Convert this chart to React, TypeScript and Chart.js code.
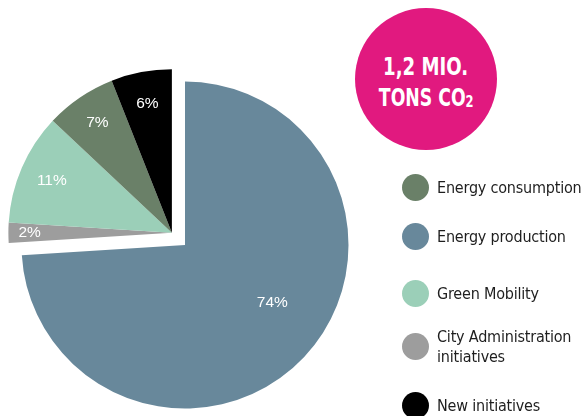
import React, { useEffect, useRef } from "react";
import { Chart, registerables } from "chart.js";

Chart.register(...registerables);

const categories = ["Energy production", "City Administration initiatives", "Green Mobility", "Energy consumption", "New initiatives"];
const shares = [74, 2, 11, 7, 6];
const colors = ["#68889b", "#9d9d9d", "#9bcfb8", "#6a8068", "#000000"];
const explodedIdx = [1, 2, 3, 4];
const labelRadius = [0.64, 0.87, 0.8, 0.81, 0.8];

const legendOrder = [3, 0, 2, 1, 4];
const legendLabels = ["Energy consumption", "Energy production", "Green Mobility", "City Administration\ninitiatives", "New initiatives"];

const W = 582;
const H = 416;
const FONT = '"Liberation Sans Narrow", "DejaVu Sans Condensed", "Liberation Sans", sans-serif';

export default function App() {
  const ref = useRef<HTMLCanvasElement>(null);
  useEffect(() => {
    document.body.style.margin = "0";
    const groupShift = {
      id: "groupShift",
      afterDatasetUpdate(chart: any, args: any) {
        const meta = args.meta;
        let start = 0;
        for (let i = 0; i < explodedIdx[0]; i++) start += shares[i];
        let sum = 0;
        explodedIdx.forEach((i) => (sum += shares[i]));
        const total = shares.reduce((a, b) => a + b, 0);
        const mid = -Math.PI / 2 + ((start + sum / 2) / total) * Math.PI * 2;
        const d = 18;
        explodedIdx.forEach((i) => {
          const el = meta.data[i];
          el.x += Math.cos(mid) * d;
          el.y += Math.sin(mid) * d;
        });
      },
    };
    const pctLabels = {
      id: "pctLabels",
      afterDatasetsDraw(chart: any) {
        const ctx = chart.ctx;
        const meta = chart.getDatasetMeta(0);
        ctx.save();
        ctx.fillStyle = "#ffffff";
        ctx.font = '15.5px "Liberation Sans", sans-serif';
        ctx.textAlign = "center";
        ctx.textBaseline = "middle";
        meta.data.forEach((el: any, i: number) => {
          let ang = (el.startAngle + el.endAngle) / 2;
          if (i === 0) ang -= 0.17;
          const r = el.outerRadius * labelRadius[i];
          ctx.fillText(shares[i] + "%", el.x + Math.cos(ang) * r, el.y + Math.sin(ang) * r);
        });
        ctx.restore();
      },
    };
    const chart = new Chart(ref.current!, {
      type: "pie",
      data: {
        labels: categories,
        datasets: [
          {
            data: shares,
            backgroundColor: colors,
            borderWidth: 0,
          },
        ],
      },
      options: {
        responsive: false,
        animation: false,
        layout: { padding: { left: 21.5, right: 233.5, top: 81.5, bottom: 7.5 } },
        plugins: { legend: { display: false }, tooltip: { enabled: false } },
      },
      plugins: [groupShift, pctLabels],
    });
    return () => chart.destroy();
  }, []);

  return (
    <div style={{ position: "relative", width: W, height: H, background: "#fff", overflow: "hidden" }}>
      <canvas ref={ref} width={W} height={H} style={{ position: "absolute", left: 0, top: 0 }} />
      <div
        style={{
          position: "absolute",
          left: 355,
          top: 8,
          width: 142,
          height: 142,
          boxSizing: "border-box",
          paddingTop: 10,
          borderRadius: "50%",
          background: "#e1197f",
          color: "#fff",
          fontFamily: FONT,
          fontWeight: "bold",
          fontSize: 24,
          lineHeight: "31px",
          display: "flex",
          flexDirection: "column",
          alignItems: "center",
          justifyContent: "center",
          textAlign: "center",
        }}
      >
        <div style={{ transform: "scaleX(0.84)" }}>1,2 MIO.</div>
        <div style={{ transform: "scaleX(0.8)" }}>
          TONS CO<span style={{ fontSize: 16, position: "relative", top: 1 }}>2</span>
        </div>
      </div>
      {legendOrder.map((idx, k) => {
        const cy = [187, 236, 293, 346, 405][k];
        const text = legendLabels[k];
        const lines = text.split("\n");
        return (
          <div key={k}>
            <div
              style={{
                position: "absolute",
                left: 402,
                top: cy - 13.5,
                width: 27,
                height: 27,
                borderRadius: "50%",
                background: colors[idx],
              }}
            />
            <div
              style={{
                position: "absolute",
                left: 437,
                top: cy - (lines.length * 20) / 2 + 1,
                fontFamily: FONT,
                fontSize: 16,
                letterSpacing: "-0.2px",
                lineHeight: "20px",
                color: "#1e1e1e",
                whiteSpace: "pre",
              }}
            >
              {text}
            </div>
          </div>
        );
      })}
    </div>
  );
}
